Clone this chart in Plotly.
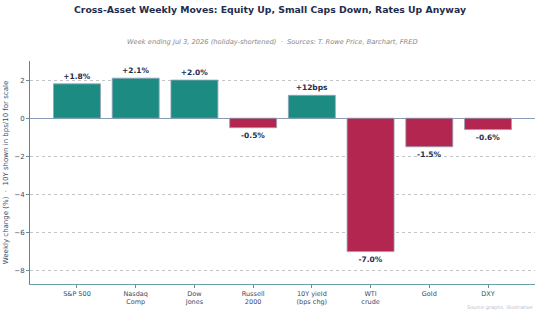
import plotly.graph_objects as go

categories = ["S&P 500", "Nasdaq<br>Comp", "Dow<br>Jones", "Russell<br>2000", "10Y yield<br>(bps chg)", "WTI<br>crude", "Gold", "DXY"]
values = [1.8, 2.1, 2.0, -0.5, 1.2, -7.0, -1.5, -0.6]
labels = ["+1.8%", "+2.1%", "+2.0%", "-0.5%", "+12bps", "-7.0%", "-1.5%", "-0.6%"]
yticks = [2, 0, -2, -4, -6, -8]

POS = "#1c8c82"
NEG = "#b3264f"
colors = [POS if v >= 0 else NEG for v in values]

fig = go.Figure()
fig.add_trace(go.Bar(
    x=list(range(len(categories))), y=values,
    marker=dict(color=colors, line=dict(color="#94a3bb", width=0.8)),
    width=0.8,
    text=["<b>" + s + "</b>" for s in labels], textposition="outside",
    textfont=dict(family="DejaVu Sans", size=7.5, color="#1f2d4d"),
    cliponaxis=False,
    hoverinfo="skip",
))

fig.update_layout(
    width=540, height=315,
    margin=dict(l=27, r=5, t=61, b=31),
    paper_bgcolor="white", plot_bgcolor="white",
    showlegend=False,
    title=dict(text="<b>Cross-Asset Weekly Moves: Equity Up, Small Caps Down, Rates Up Anyway</b>",
               x=0.5, xanchor="center", y=0.978, yanchor="top",
               font=dict(family="DejaVu Sans", size=9.3, color="#1f2d4d")),
    uniformtext=dict(minsize=6),
)
fig.add_annotation(
    text="<i>Week ending Jul 3, 2026 (holiday-shortened)  ·  Sources: T. Rowe Price, Barchart, FRED</i>",
    xref="paper", yref="paper", x=0.48, y=1.0, yshift=19, xanchor="center", yanchor="middle",
    showarrow=False, font=dict(family="DejaVu Sans", size=6.7, color="#888888"))
fig.add_annotation(
    text="Source graphs, illustrative",
    xref="paper", yref="paper", x=1.0, y=0, yshift=-23, xanchor="right", yanchor="middle",
    showarrow=False, font=dict(family="DejaVu Sans", size=5, color="#b8bccc"))

fig.update_xaxes(
    range=[-0.8, 7.8],
    tickmode="array", tickvals=list(range(len(categories))), ticktext=categories,
    tickfont=dict(family="DejaVu Sans", size=6.5, color="#3a4a6a"),
    ticks="outside", ticklen=3, tickcolor="#6a8aa0",
    showline=True, linecolor="#6aa0a8", linewidth=1,
    showgrid=False, zeroline=False,
)
fig.update_yaxes(
    range=[-8.7, 3.0],
    tickmode="array", tickvals=yticks, ticktext=[("−" + str(-t)) if t < 0 else str(t) for t in yticks],
    tickfont=dict(family="DejaVu Sans", size=7, color="#3a4a6a"),
    ticks="outside", ticklen=3, tickcolor="#6a8aa0",
    showline=True, linecolor="#5a8a94", linewidth=1,
    showgrid=True, gridcolor="#c4c4c4", griddash="dot", gridwidth=1,
    zeroline=True, zerolinecolor="#8a9bb5", zerolinewidth=1,
    title=dict(text="Weekly change (%)  ·  10Y shown in bps/10 for scale",
               font=dict(family="DejaVu Sans", size=7, color="#3a4a6a"), standoff=4),
)

fig.write_html("out.html")
